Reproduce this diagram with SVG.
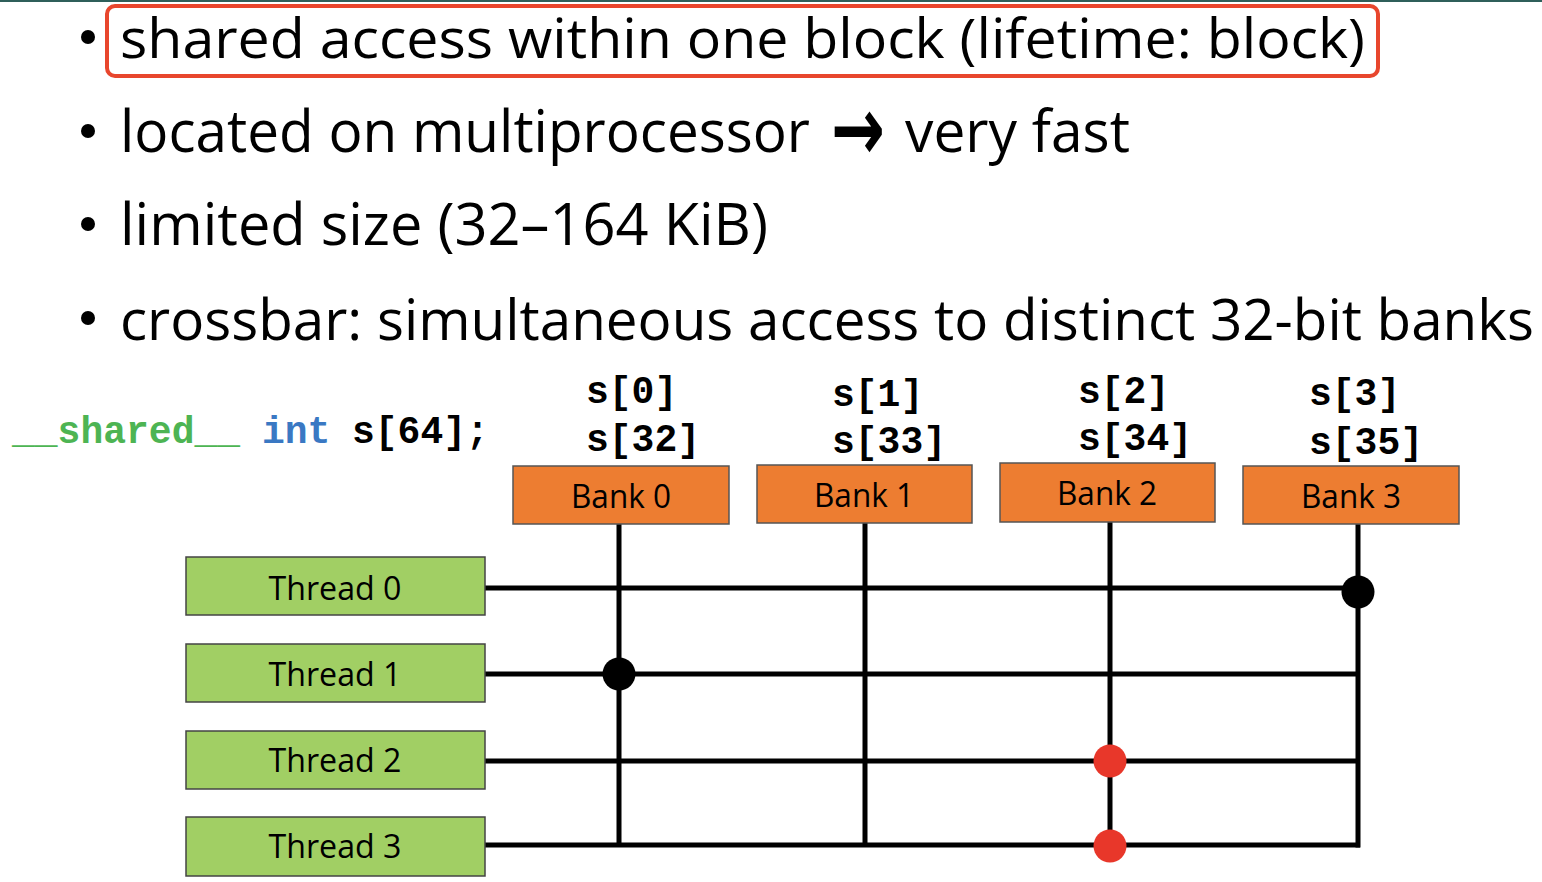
<svg xmlns="http://www.w3.org/2000/svg" width="1542" height="882" viewBox="0 0 1542 882">
<style>
.bul{font-family:"Open Sans","Noto Sans","Liberation Sans",sans-serif;font-size:58px;fill:#000}
.code{font-family:"Liberation Mono","DejaVu Sans Mono",monospace;font-size:38px;font-weight:bold;fill:#000}
.bank rect{fill:#ED7D31;stroke:#555;stroke-width:1.5}
.thr rect{fill:#A1CF64;stroke:#444;stroke-width:1.5}
.lbl{font-family:"Open Sans","Noto Sans","Liberation Sans",sans-serif;font-size:33px;fill:#000;text-anchor:middle}
.wire{stroke:#000;stroke-width:5;fill:none}
</style>
<rect x="0" y="0" width="1542" height="882" fill="#fff"/>
<rect x="0" y="0" width="1542" height="2" fill="#2F5F5A"/>
<g id="bullets">
<circle cx="88" cy="37" r="7"/>
<circle cx="88" cy="131" r="7"/>
<circle cx="88" cy="224" r="7"/>
<circle cx="88" cy="318" r="7"/>
<text class="bul" x="120" y="58" style="font-size:54px" textLength="1245" lengthAdjust="spacingAndGlyphs">shared access within one block (lifetime: block)</text>
<text class="bul" x="120" y="152" textLength="690" lengthAdjust="spacingAndGlyphs">located on multiprocessor</text>
<text x="831" y="160" textLength="54" lengthAdjust="spacingAndGlyphs" style="font-family:'DejaVu Sans',sans-serif;font-size:90px;font-weight:bold">→</text>
<text class="bul" x="905" y="152" textLength="225" lengthAdjust="spacingAndGlyphs">very fast</text>
<text class="bul" x="120" y="245" textLength="648" lengthAdjust="spacingAndGlyphs">limited size (32–164 KiB)</text>
<text class="bul" x="120" y="340" style="font-size:56.5px" textLength="1414" lengthAdjust="spacingAndGlyphs">crossbar: simultaneous access to distinct 32-bit banks</text>
<rect x="107" y="6" width="1271" height="70" rx="8" fill="none" stroke="#E8462D" stroke-width="4"/>
</g>
<g id="code">
<text class="code" x="12" y="443" style="fill:#4DB453">__shared__</text>
<text class="code" x="262" y="443" style="fill:#3A78C3">int</text>
<text class="code" x="352" y="443">s[64];</text>
</g>
<g id="addr">
<text class="code" x="586" y="403">s[0]</text>
<text class="code" x="586" y="451">s[32]</text>
<text class="code" x="832" y="406">s[1]</text>
<text class="code" x="832" y="453">s[33]</text>
<text class="code" x="1078" y="403">s[2]</text>
<text class="code" x="1078" y="450">s[34]</text>
<text class="code" x="1309" y="405">s[3]</text>
<text class="code" x="1309" y="454">s[35]</text>
</g>
<g id="connectors">
<line class="wire" x1="619" y1="524" x2="619" y2="847"/>
<line class="wire" x1="865" y1="523" x2="865" y2="847"/>
<line class="wire" x1="1110" y1="522" x2="1110" y2="847"/>
<line class="wire" x1="1358" y1="524" x2="1358" y2="847.5"/>
<line class="wire" x1="485" y1="588" x2="1358" y2="588"/>
<line class="wire" x1="485" y1="674" x2="1358" y2="674"/>
<line class="wire" x1="485" y1="761" x2="1358" y2="761"/>
<line class="wire" x1="485" y1="845" x2="1360" y2="845"/>
<circle cx="1358" cy="592" r="16.5" fill="#000"/>
<circle cx="619" cy="674" r="16.5" fill="#000"/>
<circle cx="1110" cy="761" r="16.5" fill="#E8372A"/>
<circle cx="1110" cy="846" r="16.5" fill="#E8372A"/>
</g>
<g id="bank0" class="bank"><rect x="513" y="466" width="216" height="58"/><text class="lbl" x="621" y="508" textLength="100" lengthAdjust="spacingAndGlyphs">Bank 0</text></g>
<g id="bank1" class="bank"><rect x="757" y="465" width="215" height="58"/><text class="lbl" x="864" y="507" textLength="100" lengthAdjust="spacingAndGlyphs">Bank 1</text></g>
<g id="bank2" class="bank"><rect x="1000" y="463" width="215" height="59"/><text class="lbl" x="1107" y="505" textLength="100" lengthAdjust="spacingAndGlyphs">Bank 2</text></g>
<g id="bank3" class="bank"><rect x="1243" y="466" width="216" height="58"/><text class="lbl" x="1351" y="508" textLength="100" lengthAdjust="spacingAndGlyphs">Bank 3</text></g>
<g id="thread0" class="thr"><rect x="186" y="557" width="299" height="58"/><text class="lbl" x="335" y="600" textLength="133" lengthAdjust="spacingAndGlyphs">Thread 0</text></g>
<g id="thread1" class="thr"><rect x="186" y="644" width="299" height="58"/><text class="lbl" x="335" y="686" textLength="133" lengthAdjust="spacingAndGlyphs">Thread 1</text></g>
<g id="thread2" class="thr"><rect x="186" y="731" width="299" height="58"/><text class="lbl" x="335" y="772" textLength="133" lengthAdjust="spacingAndGlyphs">Thread 2</text></g>
<g id="thread3" class="thr"><rect x="186" y="817" width="299" height="59"/><text class="lbl" x="335" y="858" textLength="133" lengthAdjust="spacingAndGlyphs">Thread 3</text></g>
</svg>
